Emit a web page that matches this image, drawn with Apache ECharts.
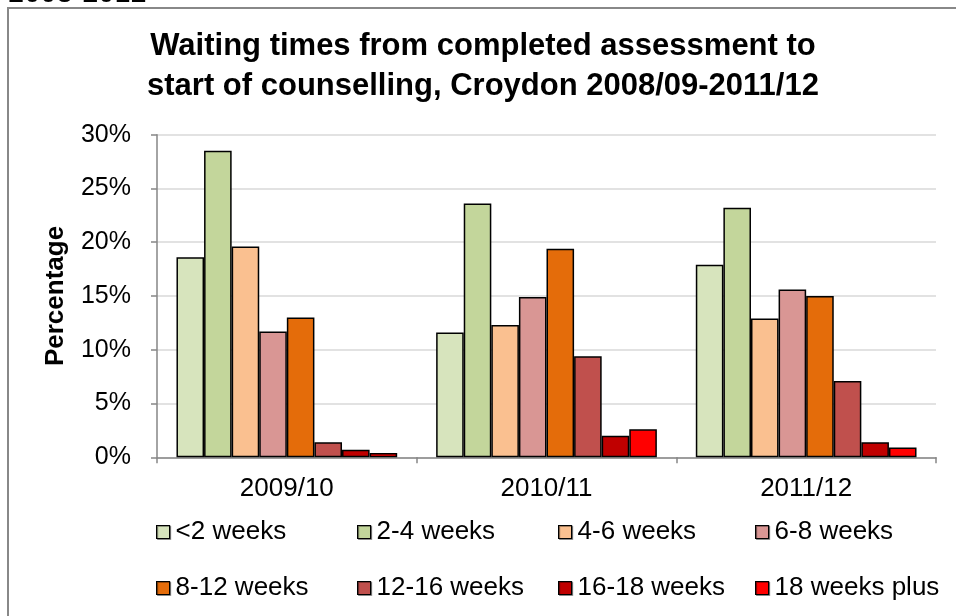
<!DOCTYPE html>
<html>
<head>
<meta charset="utf-8">
<script src="https://cdn.jsdelivr.net/npm/echarts@6/dist/echarts.min.js"></script>
<style>
html,body{margin:0;padding:0;background:#fff;}
#chart{width:956px;height:616px;}
</style>
</head>
<body>
<div id="chart"></div>
<script>
const categories = ['2009/10', '2010/11', '2011/12'];
const seriesNames = ['<2 weeks', '2-4 weeks', '4-6 weeks', '6-8 weeks', '8-12 weeks', '12-16 weeks', '16-18 weeks', '18 weeks plus'];
const lt2 = [18.6, 11.6, 17.9];
const w2to4 = [28.5, 23.6, 23.2];
const w4to6 = [19.6, 12.3, 12.9];
const w6to8 = [11.7, 14.9, 15.6];
const w8to12 = [13.0, 19.4, 15.0];
const w12to16 = [1.4, 9.4, 7.1];
const w16to18 = [0.7, 2.0, 1.4];
const w18plus = [0.4, 2.6, 0.9];
const yTicks = [0, 5, 10, 15, 20, 25, 30];
const colors = ['#D7E4BD', '#C3D69B', '#FAC090', '#D99694', '#E46C0A', '#C0504D', '#C00000', '#FF0000'];
const values = [lt2, w2to4, w4to6, w6to8, w8to12, w12to16, w16to18, w18plus];

const font = '"Liberation Sans", Arial, sans-serif';
const chart = echarts.init(document.getElementById('chart'));

const series = seriesNames.map((n, i) => ({
  name: n,
  type: 'bar',
  data: values[i],
  barGap: '0%',
  barCategoryGap: '15%',
  itemStyle: { color: colors[i], borderColor: '#000', borderWidth: 1.5 }
}));

const legendCols = [[0, 4], [1, 5], [2, 6], [3, 7]];
const legendX = [156, 357, 558, 755];
const legends = legendCols.map((col, k) => ({
  orient: 'vertical',
  left: legendX[k],
  top: 519,
  padding: 0,
  itemGap: 30,
  itemWidth: 13,
  itemHeight: 13,
  icon: 'rect',
  data: col.map(i => seriesNames[i]),
  textStyle: { fontFamily: font, fontSize: 26, color: '#000', padding: [0, 0, 0, 1] },
  itemStyle: { borderColor: '#000', borderWidth: 1.2, shadowColor: 'rgba(0,0,0,0.35)', shadowOffsetX: 1, shadowOffsetY: 1 },
  selectedMode: false
}));

chart.setOption({
  animation: false,
  backgroundColor: '#fff',
  color: colors,
  title: {
    text: 'Waiting times from completed assessment to\nstart of counselling, Croydon 2008/09-2011/12',
    left: 478,
    textAlign: 'center',
    top: 21,
    textStyle: { fontFamily: font, fontSize: 31, fontWeight: 'bold', color: '#000', lineHeight: 40 }
  },
  graphic: [
    { type: 'rect', shape: { x: 8, y: 8, width: 1000, height: 700 }, style: { fill: 'none', stroke: '#888', lineWidth: 2 } },
    { type: 'text', left: 8, top: -21, style: { text: '2008-2012', font: '29px "Liberation Sans", Arial, sans-serif', fill: '#000' } }
  ],
  grid: { left: 157, right: 20, top: 134.7, bottom: 158.7, containLabel: false },
  legend: legends,
  xAxis: {
    type: 'category',
    data: categories,
    axisLine: { lineStyle: { color: '#868686', width: 1.5 } },
    axisTick: { show: true, length: 6, lineStyle: { color: '#868686', width: 1.5 } },
    axisLabel: { fontFamily: font, fontSize: 26, color: '#000', margin: 19 }
  },
  yAxis: {
    type: 'value',
    min: 0, max: 30, interval: 5,
    name: 'Percentage',
    nameLocation: 'middle',
    nameGap: 88,
    nameTextStyle: { fontFamily: font, fontSize: 26, fontWeight: 'bold', color: '#000' },
    axisLine: { show: true, lineStyle: { color: '#868686', width: 1.5 } },
    axisTick: { show: true, length: 6, lineStyle: { color: '#868686', width: 1.5 } },
    splitLine: { lineStyle: { color: '#D9D9D9', width: 1.5 } },
    axisLabel: { fontFamily: font, fontSize: 25, color: '#000', margin: 26,
      formatter: v => yTicks.includes(v) ? v + '%' : '' }
  },
  series: series
});
</script>
</body>
</html>
